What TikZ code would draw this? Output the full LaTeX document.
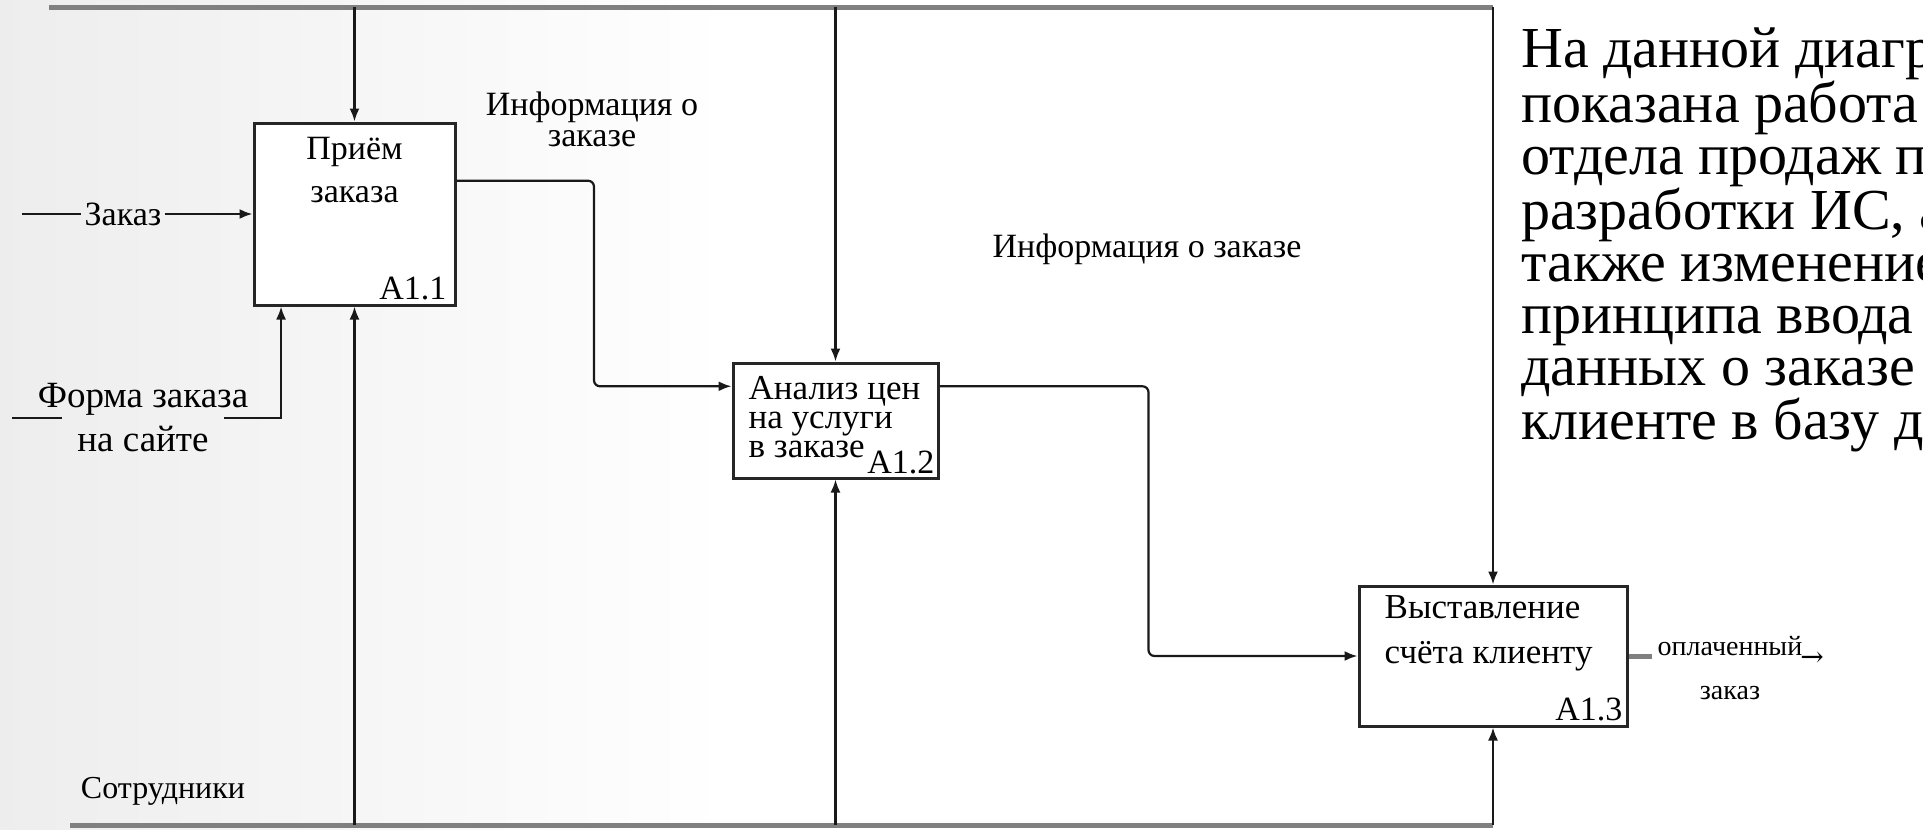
\documentclass[tikz,border=0pt]{standalone}
\usepackage{fontspec}
\setmainfont{Liberation Serif}
\newfontfamily\arrowfont{DejaVu Serif}
\usetikzlibrary{arrows.meta, positioning, calc}
\pgfdeclarehorizontalshading{slidebg}{100bp}{color(0bp)=(black!7); color(25bp)=(black!7); color(44bp)=(white); color(100bp)=(white)}

\begin{document}
\begin{tikzpicture}[
  x=1pt, y=-1pt,
  func/.style={rectangle, draw=black!85, line width=3pt, fill=white},
  boxtext/.style={inner sep=0pt, font=\fontsize{34}{43}\selectfont},
  num/.style={inner sep=0pt, font=\fontsize{34}{40}\selectfont},
  lbl/.style={inner sep=3pt, align=center, font=\fontsize{34}{44}\selectfont},
  conn/.style={line width=2.2pt, black!90},
  arrow/.style={conn, -{Latex[length=13pt, width=10pt]}},
  flow/.style={arrow, rounded corners=6pt},
  rail/.style={line width=5pt, black!50},
  note/.style={inner sep=0pt, anchor=north west, align=left, font=\fontsize{58}{52}\selectfont}
  ]
  % slide background
  \shade[shading=slidebg] (0,0) rectangle (1923,830);
  \useasboundingbox (0,0) rectangle (1923,830);

  % blocks
  \node[func, minimum width=201pt, minimum height=182pt] (a11) at (354.5,214) {};
  \node[func, minimum width=205pt, minimum height=115pt] (a12) at (835.5,420.5) {};
  \node[func, minimum width=268pt, minimum height=140pt] (a13) at (1493,656) {};

  \node[boxtext, align=center, below=16pt of a11.north] (t11) {Приём\\заказа};
  \node[boxtext, align=left, font=\fontsize{35}{29}\selectfont, below right=15pt and 17pt of a12.north west] (t12) {Анализ цен\\на услуги\\в заказе};
  \node[boxtext, align=left, font=\fontsize{35}{45}\selectfont, below right=11pt and 27pt of a13.north west] (t13) {Выставление\\счёта клиенту};

  \node[num, above left=6pt and 10pt of a11.south east] (n11) {A1.1};
  \node[num, above left=5pt and 5pt of a12.south east] (n12) {A1.2};
  \node[num, above left=6pt and 6pt of a13.south east] (n13) {A1.3};

  % controls and mechanisms
  \coordinate (tl) at (49,7);
  \coordinate (bl) at (70,825);
  \draw[rail] (tl) -- (a13.north |- tl);
  \draw[rail] (bl) -- (a13.south |- bl);
  \draw[arrow] (a11.north |- tl) -- (a11.north);
  \draw[arrow] (a12.north |- tl) -- (a12.north);
  \draw[arrow] (a13.north |- tl) -- (a13.north);
  \draw[arrow] (a11.south |- bl) -- (a11.south);
  \draw[arrow] (a12.south |- bl) -- (a12.south);
  \draw[arrow] (a13.south |- bl) -- (a13.south);
  \node[lbl, font=\fontsize{32}{40}\selectfont] (staff) at (163,791) {Сотрудники};

  % inputs
  \coordinate (zin) at (22,214);
  \node[lbl] (zakaz) at (123,214) {Заказ};
  \draw[conn] (zin) -- (zakaz);
  \draw[arrow] (zakaz) -- (a11);

  \coordinate (fin) at (12,418);
  \coordinate (fup) at ($(a11.south west)!0.14!(a11.south east)$);
  \node[lbl, font=\fontsize{37}{44}\selectfont, inner xsep=-24pt] (forma) at (143,418) {Форма заказа\\на сайте};
  \draw[conn] (fin) -- (forma);
  \draw[arrow] (forma) -| (fup);

  % outputs
  \coordinate (o11) at ($(a11.north east)!0.32!(a11.south east)$);
  \coordinate (i12) at ($(a12.north west)!0.21!(a12.south west)$);
  \coordinate (o12) at ($(a12.north east)!0.21!(a12.south east)$);
  \draw[flow] (o11) -| ($(o11)!0.5!(i12)$) |- (i12);
  \draw[flow] (o12) -| ($(o12)!0.5!(a13.west)$) |- (a13.west);
  \node[lbl, font=\fontsize{34}{31}\selectfont] (info1) at (592,119) {Информация о\\заказе};
  \node[lbl] (info2) at (1147,249) {Информация о заказе};

  \coordinate (o13) at ($(a13.east)+(23,0)$);
  \draw[rail] (a13.east) -- (o13);
  \node[lbl, font=\fontsize{28}{44}\selectfont] (paid) at (1730,668) {оплаченный\\заказ};
  \node[lbl, font=\arrowfont\fontsize{28}{28}\selectfont] (parr) at (1812,659) {→};

  % description
  \begin{scope}
    \clip (0,0) rectangle (1923,830);
    \node[note] (desc) at (1521,28) {На данной диаграмме\\показана работа\\отдела продаж после\\разработки ИС, а\\также изменение\\принципа ввода\\данных о заказе\\клиенте в базу данных};
  \end{scope}
\end{tikzpicture}
\end{document}
